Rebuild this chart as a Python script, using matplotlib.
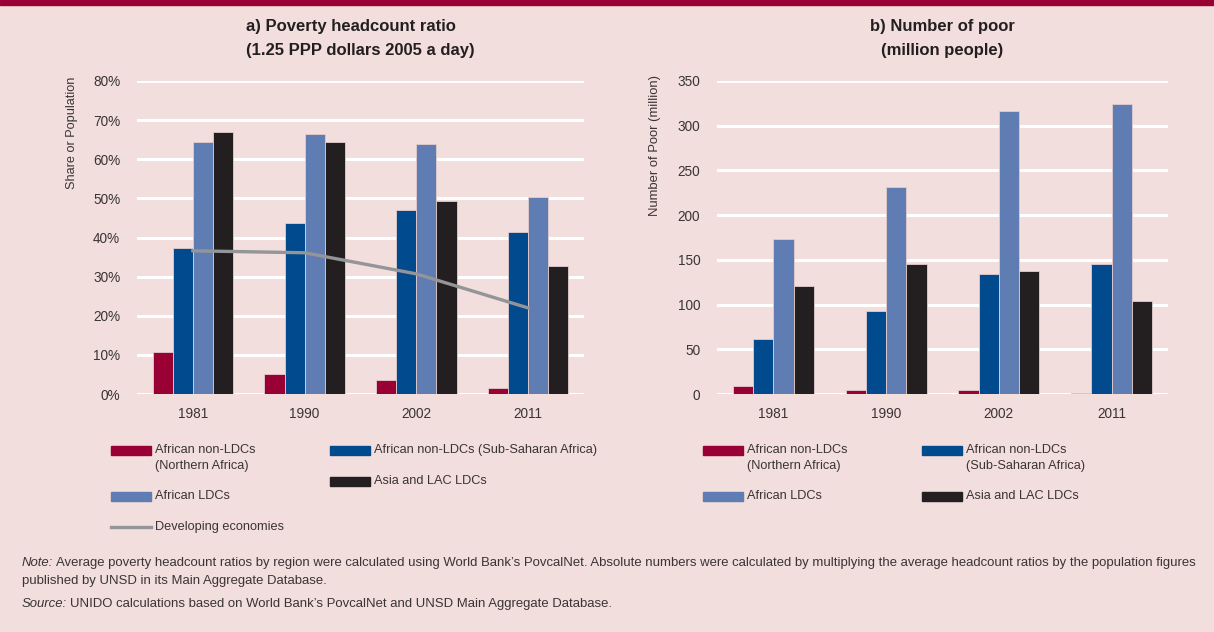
import numpy as np
import matplotlib
matplotlib.use("Agg")
import matplotlib.pyplot as plt
from matplotlib.patches import Rectangle
from matplotlib.lines import Line2D

# data
years = ["1981", "1990", "2002", "2011"]
series = ["African non-LDCs\n(Northern Africa)", "African non-LDCs (Sub-Saharan Africa)",
          "African LDCs", "Asia and LAC LDCs"]
ratio_north = [10.8, 5.1, 3.6, 1.6]
ratio_ssa = [37.3, 43.7, 47.1, 41.5]
ratio_ldc = [64.4, 66.5, 64.0, 50.4]
ratio_asia = [67.0, 64.5, 49.4, 32.8]
ratio_developing = [36.6, 36.1, 30.7, 22.0]

poor_north = [9.4, 5.0, 4.0, 1.5]
poor_ssa = [61, 93, 134.5, 145]
poor_ldc = [173, 231, 316, 324]
poor_asia = [121, 145, 138, 104]

colors = ["#990033", "#004a8d", "#5f7db3", "#231f20"]
line_color = "#939598"
bg = "#f2dedc"
text_color = "#3a3435"

plt.rcParams["font.family"] = ["Liberation Sans", "DejaVu Sans"]
plt.rcParams["text.color"] = text_color

W, H = 1214, 632
fig = plt.figure(figsize=(W / 100, H / 100), dpi=100, facecolor=bg)

# top band
fig.patches.append(Rectangle((0, 1 - 5 / H), 1, 5 / H, transform=fig.transFigure,
                             color="#990033", zorder=0))

ax1 = fig.add_axes([137 / W, 1 - 394 / H, 447 / W, 313 / H])
ax2 = fig.add_axes([717 / W, 1 - 394 / H, 451 / W, 313 / H])

x = np.arange(len(years))
w = 0.18
offsets = np.array([-1.5, -0.5, 0.5, 1.5]) * w

for ax, data in [(ax1, [ratio_north, ratio_ssa, ratio_ldc, ratio_asia]),
                 (ax2, [poor_north, poor_ssa, poor_ldc, poor_asia])]:
    ax.set_facecolor(bg)
    for i, vals in enumerate(data):
        ax.bar(x + offsets[i], vals, width=w, color=colors[i],
               edgecolor="#e3cdce", linewidth=0.6, zorder=3)
    for s in ax.spines.values():
        s.set_visible(False)
    ax.yaxis.grid(True, color="white", linewidth=2.2, zorder=0)
    ax.set_axisbelow(True)
    ax.set_xlim(-0.5, 3.5)
    ax.set_xticks(x)
    ax.set_xticklabels(years)
    ax.tick_params(length=0, labelsize=9.8, colors=text_color)
    ax.tick_params(axis="x", pad=9)
    ax.tick_params(axis="y", pad=12)

ax1.plot(x, ratio_developing, color=line_color, linewidth=2.4, zorder=4)
ax1.set_ylim(0, 80)
ax1.set_yticks(np.arange(0, 81, 10))
ax1.set_yticklabels([f"{v}%" for v in range(0, 81, 10)])

ax2.set_ylim(0, 350)
ax2.set_yticks(np.arange(0, 351, 50))


def ftext(px, py, s, **kw):
    return fig.text(px / W, 1 - py / H, s, **kw)


# titles
tkw = dict(ha="center", va="center", fontsize=12, fontweight="bold", color="#231f20")
ftext(351, 27, "a) Poverty headcount ratio", **tkw)
ftext(360, 50, "(1.25 PPP dollars 2005 a day)", **tkw)
ftext(942, 27, "b) Number of poor", **tkw)
ftext(942, 50, "(million people)", **tkw)

ftext(72, 77, "Share or Population", rotation=90, ha="center", va="top", fontsize=9.2)
ftext(655, 75, "Number of Poor (million)", rotation=90, ha="center", va="top", fontsize=9.4)


# legends
def patch(px, py, color):
    fig.patches.append(Rectangle((px / W, 1 - (py + 4.5) / H), 40 / W, 9 / H,
                                 transform=fig.transFigure, color=color))


def label(px, py, s):
    ftext(px, py - 6, s, ha="left", va="top", fontsize=9.2, linespacing=1.45)


patch(111, 450, colors[0]); label(155, 450, series[0])
patch(330, 450, colors[1]); label(374, 450, series[1])
patch(330, 481, colors[3]); label(374, 481, series[3])
patch(111, 496, colors[2]); label(155, 496, series[2])
fig.lines.append(Line2D([111 / W, 151 / W], [1 - 527 / H, 1 - 527 / H],
                        transform=fig.transFigure, color=line_color, linewidth=2.4))
label(155, 527, "Developing economies")

patch(703, 450, colors[0]); label(747, 450, series[0])
patch(922, 450, colors[1]); label(966, 450, "African non-LDCs\n(Sub-Saharan Africa)")
patch(703, 496, colors[2]); label(747, 496, series[2])
patch(922, 496, colors[3]); label(966, 496, series[3])

# notes
renderer = fig.canvas.get_renderer()
base = 9.0
nkw = dict(ha="left", va="center", fontsize=base)
note_head = ftext(22, 563, "Note:", style="italic", **nkw)
src_head = ftext(22, 604, "Source:", style="italic", **nkw)
x_note = note_head.get_window_extent(renderer).x1 + 3
note1 = ftext(x_note, 563,
              "Average poverty headcount ratios by region were calculated using World Bank\u2019s PovcalNet. "
              "Absolute numbers were calculated by multiplying the average headcount ratios by the population figures",
              **nkw)
# size the long note line to the reference width (right edge near x=1202)
ext = note1.get_window_extent(renderer)
size = base * (1202 - 22) / (ext.x1 - 22)
for t in (note_head, src_head, note1):
    t.set_fontsize(size)
x_note = note_head.get_window_extent(renderer).x1 + 3
x_src = src_head.get_window_extent(renderer).x1 + 3
note1.set_x(x_note / W)
ftext(22, 581, "published by UNSD in its Main Aggregate Database.", ha="left", va="center", fontsize=size)
ftext(x_src, 604, "UNIDO calculations based on World Bank\u2019s PovcalNet and UNSD Main Aggregate Database.",
      ha="left", va="center", fontsize=size)

fig.savefig("out.png", dpi=100, facecolor=bg)
